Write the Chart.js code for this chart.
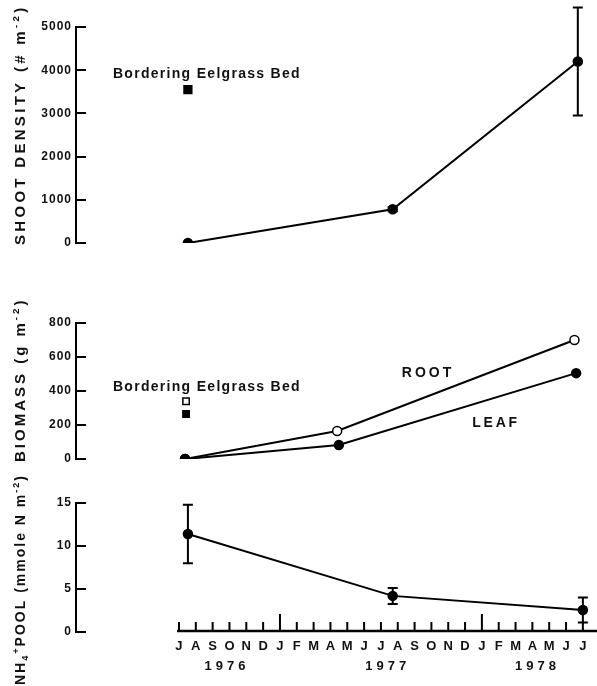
<!DOCTYPE html>
<html><head><meta charset="utf-8">
<script src="https://cdn.jsdelivr.net/npm/chart.js@4.4.1/dist/chart.umd.min.js"></script>
<style>
html,body{margin:0;padding:0;background:#fff;width:597px;height:686px;overflow:hidden}
canvas{position:absolute;left:0;top:0}
</style></head>
<body>
<canvas id="c1" width="597" height="686"></canvas>
<canvas id="c2" width="597" height="686"></canvas>
<canvas id="c3" width="597" height="686"></canvas>
<script>
// ---------- data ----------
const months = ['J','A','S','O','N','D','J','F','M','A','M','J','J','A','S','O','N','D','J','F','M','A','M','J','J'];
const yearLabels = ['1976','1977','1978'];
const yearPositions = [2.85, 12.4, 21.3];
const januaryIndex = [6, 18];

// shoot density (# m^-2)
const shootX = [0.53, 12.7, 23.7];
const shootY = [0, 780, 4200];
const shootErr = [0, 45, 1250];
const shootBorderX = [0.53];
const shootBorderY = [3550];

// biomass (g m^-2)
const rootX = [0.36, 9.4, 23.5];
const rootY = [0, 165, 700];
const leafX = [0.36, 9.5, 23.6];
const leafY = [0, 82, 505];
const borderBiomassX = [0.42];
const borderRootY = [340];
const borderLeafY = [265];

// NH4+ pool (mmole N m^-2)
const nh4X = [0.53, 12.7, 24.0];
const nh4Y = [11.4, 4.2, 2.55];
const nh4Err = [3.4, 0.93, 1.45];

// ---------- helpers ----------
const FAM = "'Liberation Sans', Arial, Helvetica, sans-serif";
const INK = '#111';
const X_MIN = -6.12, X_MAX = 24.84;
Chart.defaults.font.family = FAM;
Chart.defaults.color = INK;

const pts = (xs, ys) => xs.map((x, i) => ({x, y: ys[i]}));

function drawRich(ctx, segs, x, y, size, spacing, rotate, align) {
  ctx.save();
  ctx.translate(x, y);
  if (rotate) ctx.rotate(-Math.PI / 2);
  ctx.fillStyle = INK;
  ctx.textBaseline = 'alphabetic';
  ctx.textAlign = 'left';
  ctx.letterSpacing = spacing + 'px';
  let total = 0;
  const parts = segs.map(s => {
    const fs = (s.sup || s.sub) ? size * 0.65 : size;
    ctx.font = 'bold ' + fs + 'px ' + FAM;
    const w = ctx.measureText(s.t).width;
    total += w;
    return {s, fs, w};
  });
  let cx = align === 'center' ? -total / 2 : 0;
  const base = size * 0.36;
  for (const p of parts) {
    ctx.font = 'bold ' + p.fs + 'px ' + FAM;
    let dy = base;
    if (p.s.sup) dy -= size * 0.42;
    if (p.s.sub) dy += size * 0.22;
    ctx.fillText(p.s.t, cx, dy);
    cx += p.w;
  }
  ctx.restore();
}

const spacingPlugin = {
  id: 'labelSpacing',
  beforeDraw(chart) {
    const map = chart.options.plugins.labelSpacing || {};
    Object.keys(map).forEach(id => {
      const sc = chart.scales[id];
      if (!sc || sc._lsPatched) return;
      const orig = sc.drawLabels;
      sc.drawLabels = function (area) {
        const c = this.ctx;
        c.save();
        c.letterSpacing = map[id];
        orig.call(this, area);
        c.restore();
      };
      sc._lsPatched = true;
    });
  }
};

const errorBarPlugin = {
  id: 'errorBars',
  afterDatasetsDraw(chart) {
    const ctx = chart.ctx, xs = chart.scales.x, ys = chart.scales.y;
    chart.data.datasets.forEach(ds => {
      if (!ds.errors) return;
      ctx.save();
      ctx.strokeStyle = '#000';
      ctx.lineWidth = 2;
      ds.data.forEach((p, i) => {
        const e = ds.errors[i];
        if (!e) return;
        const px = xs.getPixelForValue(p.x);
        const t = ys.getPixelForValue(p.y + e);
        const b = ys.getPixelForValue(p.y - e);
        ctx.beginPath();
        ctx.moveTo(px, t); ctx.lineTo(px, b);
        ctx.moveTo(px - 5, t); ctx.lineTo(px + 5, t);
        ctx.moveTo(px - 5, b); ctx.lineTo(px + 5, b);
        ctx.stroke();
      });
      ctx.restore();
    });
  }
};

const textPlugin = {
  id: 'texts',
  afterDraw(chart) {
    const o = chart.options.plugins.texts || {};
    const ctx = chart.ctx;
    if (o.title) drawRich(ctx, o.title.segs, o.title.x, o.title.y, o.title.size, o.title.spacing, true, 'left');
    (o.notes || []).forEach(n => {
      const px = chart.scales.x.getPixelForValue(n.x);
      const py = chart.scales.y.getPixelForValue(n.y);
      drawRich(ctx, [{t: n.t}], px, py, n.size, n.spacing, false, 'center');
    });
  }
};

const monthAxisPlugin = {
  id: 'monthAxis',
  afterDraw(chart) {
    if (!chart.options.plugins.monthAxis) return;
    const ctx = chart.ctx, xs = chart.scales.x;
    const y0 = chart.chartArea.bottom - 1;
    ctx.save();
    ctx.strokeStyle = '#000';
    ctx.lineWidth = 2.5;
    ctx.beginPath();
    ctx.moveTo(xs.getPixelForValue(-0.12), y0);
    ctx.lineTo(chart.chartArea.right, y0);
    ctx.stroke();
    ctx.lineWidth = 2;
    ctx.beginPath();
    months.forEach((m, i) => {
      const px = xs.getPixelForValue(i);
      const h = januaryIndex.includes(i) ? 17 : 9;
      ctx.moveTo(px, y0);
      ctx.lineTo(px, y0 - h);
    });
    ctx.stroke();
    ctx.restore();
  }
};

function yAxis(min, max, step) {
  return {
    type: 'linear', position: 'left', min, max,
    ticks: {stepSize: step, padding: 14, color: INK, font: {size: 12, weight: 'bold'},
      callback: (v) => String(v)},
    grid: {display: true, drawOnChartArea: false, drawTicks: true, tickLength: -10, lineWidth: 2, color: '#000'},
    border: {display: true, width: 2, color: '#000'},
    afterFit(s) { s.width = 76; }
  };
}
const hiddenX = {type: 'linear', min: X_MIN, max: X_MAX, display: false};

function lineSet(data, fill, extra) {
  return Object.assign({
    data, borderColor: '#000', borderWidth: 2, showLine: true,
    pointRadius: 4.5, pointBackgroundColor: fill, pointBorderColor: '#000', pointBorderWidth: 1.5,
    tension: 0
  }, extra || {});
}
function markSet(data, fill, r) {
  return {
    data, showLine: false, pointStyle: 'rect', pointRadius: r,
    pointBackgroundColor: fill, pointBorderColor: '#000', pointBorderWidth: 1.5
  };
}

const basePlugins = [spacingPlugin, errorBarPlugin, textPlugin, monthAxisPlugin];
function baseOpts(padTop, padBottom) {
  return {
    responsive: false, animation: false, events: [],
    layout: {padding: {top: padTop, bottom: padBottom, left: 0, right: 0}, autoPadding: false},
    plugins: {legend: {display: false}, tooltip: {enabled: false}, labelSpacing: {y: '1px'}}
  };
}

// ---------- chart 1 : shoot density ----------
const o1 = baseOpts(27, 686 - 243);
o1.scales = {x: hiddenX, y: yAxis(0, 5000, 1000)};
o1.plugins.texts = {
  title: {segs: [{t: 'SHOOT DENSITY (# m'}, {t: '-2', sup: 1}, {t: ')'}], x: 20, y: 245, size: 15, spacing: 3.3},
  notes: [{t: 'Bordering Eelgrass Bed', x: 1.66, y: 3935, size: 14, spacing: 1.3}]
};
new Chart(document.getElementById('c1'), {
  type: 'line',
  data: {datasets: [
    lineSet(pts(shootX, shootY), '#000', {errors: shootErr}),
    markSet(pts(shootBorderX, shootBorderY), '#000', 5.5)
  ]},
  options: o1, plugins: basePlugins
});

// ---------- chart 2 : biomass ----------
const o2 = baseOpts(323, 686 - 459);
o2.scales = {x: hiddenX, y: yAxis(0, 800, 200)};
o2.plugins.texts = {
  title: {segs: [{t: 'BIOMASS (g m'}, {t: '-2', sup: 1}, {t: ')'}], x: 20, y: 462, size: 15, spacing: 3},
  notes: [
    {t: 'Bordering Eelgrass Bed', x: 1.66, y: 429, size: 14, spacing: 1.3},
    {t: 'ROOT', x: 14.8, y: 512, size: 14, spacing: 3},
    {t: 'LEAF', x: 18.84, y: 218, size: 14, spacing: 2.7}
  ]
};
new Chart(document.getElementById('c2'), {
  type: 'line',
  data: {datasets: [
    lineSet(pts(leafX, leafY), '#000'),
    lineSet(pts(rootX, rootY), '#fff'),
    markSet(pts(borderBiomassX, borderRootY), '#fff', 4.5),
    markSet(pts(borderBiomassX, borderLeafY), '#000', 4.5)
  ]},
  options: o2, plugins: basePlugins
});

// ---------- chart 3 : NH4 pool ----------
const o3 = baseOpts(503, 0);
o3.scales = {
  x: {
    type: 'linear', position: 'bottom', min: X_MIN, max: X_MAX,
    grid: {display: false}, border: {display: false},
    ticks: {autoSkip: false, maxRotation: 0, padding: -1, color: INK, font: {size: 13, weight: 'bold'},
      callback: (v) => months[v]},
    afterBuildTicks(s) { s.ticks = months.map((m, i) => ({value: i})); },
    afterFit(s) { s.height = 26; }
  },
  x2: {
    type: 'linear', position: 'bottom', min: X_MIN, max: X_MAX,
    grid: {display: false}, border: {display: false},
    ticks: {autoSkip: false, maxRotation: 0, padding: -7, color: INK, font: {size: 13, weight: 'bold'},
      callback: (v, i) => yearLabels[i]},
    afterBuildTicks(s) { s.ticks = yearPositions.map(v => ({value: v})); },
    afterFit(s) { s.height = 28; }
  },
  y: yAxis(0, 15, 5)
};
o3.plugins.labelSpacing = {y: '1px', x2: '4px'};
o3.plugins.monthAxis = true;
o3.plugins.texts = {
  title: {segs: [{t: 'NH'}, {t: '4', sub: 1}, {t: '+', sup: 1}, {t: 'POOL (mmole N m'}, {t: '-2', sup: 1}, {t: ')'}],
    x: 20, y: 685, size: 14, spacing: 2}
};
new Chart(document.getElementById('c3'), {
  type: 'line',
  data: {datasets: [
    lineSet(pts(nh4X, nh4Y), '#000', {errors: nh4Err})
  ]},
  options: o3, plugins: basePlugins
});
</script>
</body></html>
